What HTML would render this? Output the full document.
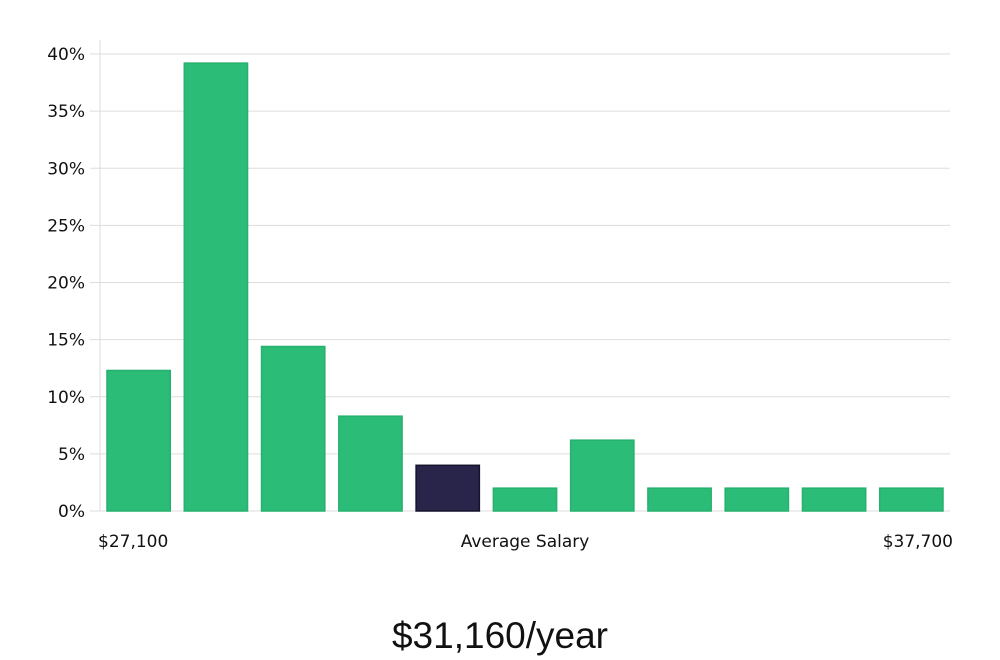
<!DOCTYPE html>
<html><head><meta charset="utf-8"><style>
body{margin:0;background:#fff;width:1000px;height:660px;overflow:hidden}
svg{display:block}
text{font-family:"DejaVu Sans","Liberation Sans",sans-serif;fill:#111}
</style></head><body>
<svg id="chart" width="1000" height="660" viewBox="0 0 1000 660">
<g id="grid"></g>
<g id="yaxis"></g>
<g id="bars"></g>
<text x="98" y="547" font-size="17">$27,100</text>
<text x="525" y="547" font-size="17" text-anchor="middle">Average Salary</text>
<text x="953" y="547" font-size="17" text-anchor="end">$37,700</text>
<text x="500" y="648" font-size="37" text-anchor="middle" style="font-family:'Liberation Sans',sans-serif;font-weight:300" fill="#111">$31,160/year</text>
</svg>
<script>
const values=[12.3,39.2,14.4,8.3,4.0,2.0,6.2,2.0,2.0,2.0,2.0];
const highlight=[false,false,false,false,true,false,false,false,false,false,false];
const yTicks=[0,5,10,15,20,25,30,35,40];
const yTickLabels=["0%","5%","10%","15%","20%","25%","30%","35%","40%"];
const NS="http://www.w3.org/2000/svg";
const x0=100,x1=950,yBase=511,yTop=54,yMax=40;
function y(v){return yBase-(v/yMax)*(yBase-yTop);}
const step=(x1-x0)/values.length;
function bx(i){return x0+i*step+7;}
const bw=step-14;
const grid=document.getElementById('grid'),ya=document.getElementById('yaxis'),bars=document.getElementById('bars');
yTicks.forEach((t,i)=>{
 const l=document.createElementNS(NS,'line');
 
 
 l.setAttribute('x1',90);l.setAttribute('x2',x1);l.setAttribute('y1',y(t));l.setAttribute('y2',y(t));
 l.setAttribute('stroke','#dddddd');l.setAttribute('stroke-width','1');
 grid.appendChild(l);
 const tx=document.createElementNS(NS,'text');
 
 
 tx.setAttribute('x',85);tx.setAttribute('y',y(t)+6);tx.setAttribute('text-anchor','end');tx.setAttribute('font-size','17');
 tx.textContent=yTickLabels[i];
 ya.appendChild(tx);
});
const ax=document.createElementNS(NS,'line');


ax.setAttribute('x1',x0);ax.setAttribute('x2',x0);ax.setAttribute('y1',40);ax.setAttribute('y2',yBase);
ax.setAttribute('stroke','#dddddd');
ya.appendChild(ax);
values.forEach((v,i)=>{
 const r=document.createElementNS(NS,'rect');
 
 
 r.setAttribute('x',bx(i));r.setAttribute('width',bw);
 r.setAttribute('y',y(v));r.setAttribute('height',yBase-y(v));
 r.setAttribute('fill',highlight[i]?'#28244a':'#2bbd77');
 r.setAttribute('stroke',highlight[i]?'#15132b':'#27b06e');r.setAttribute('stroke-width','1.5');
 bars.appendChild(r);
});
</script>
</body></html>
